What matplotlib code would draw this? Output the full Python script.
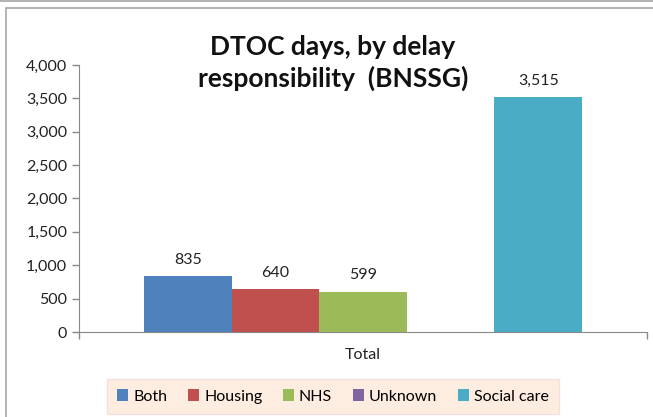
import matplotlib.pyplot as plt
from matplotlib.patches import Rectangle
from matplotlib.lines import Line2D

categories = ["Total"]
series = ["Both", "Housing", "NHS", "Unknown", "Social care"]
values = [835, 640, 599, 0, 3515]
colors = ["#4F81BD", "#C0504D", "#9BBB59", "#8064A2", "#4BACC6"]
yticks = [0, 500, 1000, 1500, 2000, 2500, 3000, 3500, 4000]

plt.rcParams["font.family"] = ["Lato", "DejaVu Sans"]

W, H = 653, 417
fig = plt.figure(figsize=(W / 100, H / 100), dpi=100)

# chart frame
fig.add_artist(Line2D([0, 1], [1 - 1 / H, 1 - 1 / H], color="#a6a6a6", lw=1.2))
fig.add_artist(Rectangle((6 / W, -0.1), 1.2, 1 - 8 / H + 0.1, fill=False,
                         edgecolor="#a6a6a6", lw=1.2))

ax = fig.add_axes([79 / W, (H - 332) / H, 568 / W, 267 / H])

group = 0.771
w = group / len(series)
for i, (name, v, c) in enumerate(zip(series, values, colors)):
    x = (i - (len(series) - 1) / 2) * w
    ax.bar(x, v, width=w, color=c, label=name)
    if v:
        ax.annotate(f"{v:,}", (x, v), xytext=(0, 7), textcoords="offset points",
                    ha="center", va="bottom", fontsize=11.5, color="#222222")

ax.set_xlim(-0.5, 0.5)
ax.set_ylim(0, 4000)
ax.set_yticks(yticks)
ax.set_yticklabels([f"{t:,}" for t in yticks], fontsize=11.5)
ax.set_xticks([-0.5, 0.5])
ax.set_xticklabels(["", ""])
ax.text(0.5, -0.088, categories[0], transform=ax.transAxes, ha="center", va="center",
        fontsize=11.5, color="#222222")
ax.tick_params(axis="both", color="#888888", length=5, width=1, labelcolor="#222222")
for s in ["top", "right"]:
    ax.spines[s].set_visible(False)
for s in ["left", "bottom"]:
    ax.spines[s].set_color("#888888")

fig.text(333 / W, 1 - 63 / H, "DTOC days, by delay\nresponsibility  (BNSSG)",
         ha="center", va="center", fontsize=19, fontweight="bold",
         linespacing=1.35, color="#111111")

leg = fig.legend(loc="center", bbox_to_anchor=(333 / W, 1 - 396.5 / H), ncol=5,
                 frameon=True, fontsize=11.5, handlelength=0.7, handleheight=0.7,
                 handletextpad=0.3, columnspacing=1.3, borderpad=0.65, fancybox=False)
leg.get_frame().set_facecolor("#FDE9D9")
leg.get_frame().set_edgecolor("#F2DCDB")

fig.savefig("out.png", dpi=100)
